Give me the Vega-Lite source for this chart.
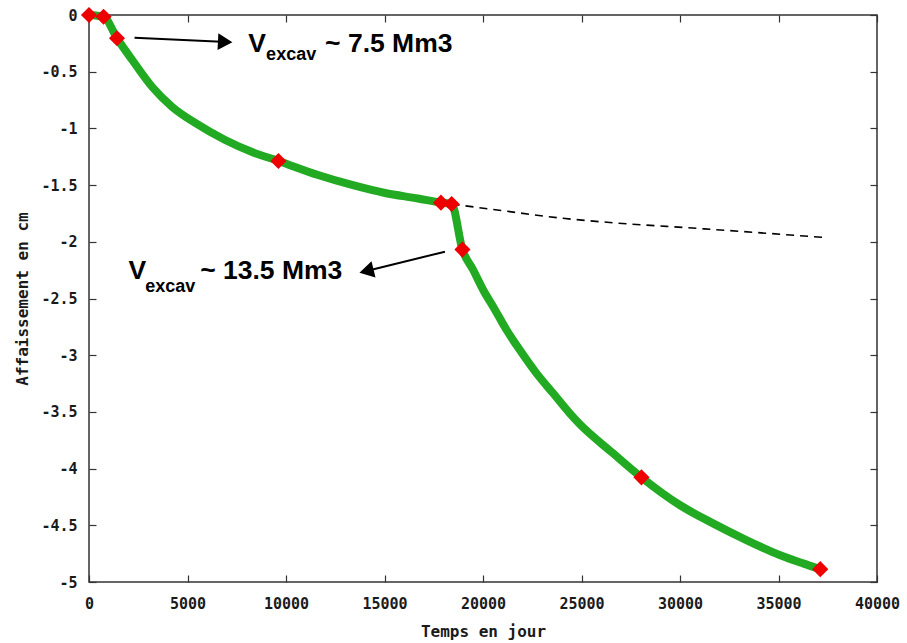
{
  "$schema": "https://vega.github.io/schema/vega-lite/v6.json",
  "width": 788,
  "height": 567,
  "autosize": {"type": "none"},
  "padding": {"left": 89, "top": 15, "right": 30, "bottom": 61},
  "background": "white",
  "config": {
    "view": {"stroke": "#333333", "strokeWidth": 1.5},
    "axis": {
      "grid": false,
      "domain": false,
      "tickColor": "#333333",
      "tickWidth": 1.2,
      "labelFont": "DejaVu Sans Mono",
      "labelFontWeight": "bold",
      "labelFontSize": 15,
      "labelColor": "#1a1a1a",
      "titleFont": "DejaVu Sans Mono",
      "titleFontWeight": "bold",
      "titleFontSize": 16,
      "titleColor": "#1a1a1a"
    }
  },
  "datasets": {
    "curve": [
      {"t": 0, "a": 0},
      {"t": 740, "a": -0.015},
      {"t": 1420, "a": -0.205},
      {"t": 2196, "a": -0.397},
      {"t": 3210, "a": -0.635},
      {"t": 4225, "a": -0.811},
      {"t": 5391, "a": -0.952},
      {"t": 6912, "a": -1.102},
      {"t": 8281, "a": -1.208},
      {"t": 9615, "a": -1.287},
      {"t": 11628, "a": -1.411},
      {"t": 13352, "a": -1.499},
      {"t": 15026, "a": -1.570},
      {"t": 16700, "a": -1.618},
      {"t": 17865, "a": -1.655},
      {"t": 18408, "a": -1.667},
      {"t": 18956, "a": -2.069},
      {"t": 19503, "a": -2.249},
      {"t": 20010, "a": -2.425},
      {"t": 20517, "a": -2.572},
      {"t": 21197, "a": -2.778},
      {"t": 21871, "a": -2.954},
      {"t": 22718, "a": -3.160},
      {"t": 23560, "a": -3.336},
      {"t": 24407, "a": -3.513},
      {"t": 24870, "a": -3.601},
      {"t": 26603, "a": -3.865},
      {"t": 28043, "a": -4.077},
      {"t": 29986, "a": -4.321},
      {"t": 31675, "a": -4.483},
      {"t": 33368, "a": -4.630},
      {"t": 35057, "a": -4.762},
      {"t": 36238, "a": -4.836},
      {"t": 37120, "a": -4.887}
    ],
    "dash": [
      {"t": 18408, "a": -1.667},
      {"t": 21000, "a": -1.726},
      {"t": 24070, "a": -1.793},
      {"t": 26600, "a": -1.832},
      {"t": 30830, "a": -1.881},
      {"t": 37505, "a": -1.964}
    ],
    "markers": [
      {"t": 0, "a": 0},
      {"t": 740, "a": -0.015},
      {"t": 1420, "a": -0.205},
      {"t": 9615, "a": -1.287},
      {"t": 17865, "a": -1.655},
      {"t": 18408, "a": -1.667},
      {"t": 18956, "a": -2.069},
      {"t": 28043, "a": -4.077},
      {"t": 37120, "a": -4.887}
    ],
    "arrows": [
      {"arrow": 1, "t": 2312, "a": -0.200},
      {"arrow": 1, "t": 7000, "a": -0.239},
      {"arrow": 2, "t": 18069, "a": -2.087},
      {"arrow": 2, "t": 14085, "a": -2.258}
    ],
    "heads": [
      {"arrow": 1, "t": 6912, "a": -0.238},
      {"arrow": 2, "t": 14085, "a": -2.258}
    ],
    "labels": [
      {"part": "main", "t": 8078, "a": -0.324, "text": "V"},
      {"part": "sub", "t": 8991, "a": -0.395, "text": "excav"},
      {"part": "main", "t": 11983, "a": -0.324, "text": "~ 7.5 Mm3"},
      {"part": "main", "t": 2008, "a": -2.331, "text": "V"},
      {"part": "sub", "t": 2855, "a": -2.443, "text": "excav"},
      {"part": "main", "t": 5644, "a": -2.331, "text": "~ 13.5 Mm3"}
    ]
  },
  "resolve": {"axis": {"x": "independent", "y": "independent"}},
  "layer": [
    {
      "data": {"name": "curve"},
      "mark": {"type": "line", "color": "#22aa22", "strokeWidth": 8, "strokeCap": "round", "strokeJoin": "round", "interpolate": "monotone"},
      "encoding": {
        "x": {
          "field": "t", "type": "quantitative",
          "scale": {"domain": [0, 40000], "nice": false, "zero": false},
          "axis": {"title": "Temps en jour", "orient": "bottom", "values": [0, 5000, 10000, 15000, 20000, 25000, 30000, 35000, 40000], "labelExpr": "toString(datum.value)", "tickSize": -7, "labelPadding": 21, "titlePadding": 12, "labelFlush": false}
        },
        "y": {
          "field": "a", "type": "quantitative",
          "scale": {"domain": [-5, 0], "nice": false, "zero": false},
          "axis": {"title": "Affaissement en cm", "orient": "left", "values": [0, -0.5, -1, -1.5, -2, -2.5, -3, -3.5, -4, -4.5, -5], "labelExpr": "toString(datum.value)", "tickSize": -7, "labelPadding": 19, "titlePadding": 10, "labelFlush": false}
        },
        "order": {"field": "t", "type": "quantitative"}
      }
    },
    {
      "data": {"name": "dash"},
      "mark": {"type": "line", "color": "black", "strokeWidth": 1.6, "strokeDash": [8, 6], "interpolate": "monotone"},
      "encoding": {
        "x": {"field": "t", "type": "quantitative", "axis": {"orient": "top", "title": null, "labels": false, "values": [0, 5000, 10000, 15000, 20000, 25000, 30000, 35000, 40000], "tickSize": -7}},
        "y": {"field": "a", "type": "quantitative", "axis": {"orient": "right", "title": null, "labels": false, "values": [0, -0.5, -1, -1.5, -2, -2.5, -3, -3.5, -4, -4.5, -5], "tickSize": -7}}
      }
    },
    {
      "data": {"name": "arrows"},
      "mark": {"type": "line", "color": "black", "strokeWidth": 2},
      "encoding": {
        "x": {"field": "t", "type": "quantitative", "axis": null},
        "y": {"field": "a", "type": "quantitative", "axis": null},
        "detail": {"field": "arrow"}
      }
    },
    {
      "data": {"name": "heads"},
      "transform": [{"filter": "datum.arrow == 1"}],
      "mark": {"type": "point", "shape": "triangle-right", "filled": true, "color": "black", "opacity": 1, "size": 280, "angle": 2.7},
      "encoding": {
        "x": {"field": "t", "type": "quantitative", "axis": null},
        "y": {"field": "a", "type": "quantitative", "axis": null}
      }
    },
    {
      "data": {"name": "heads"},
      "transform": [{"filter": "datum.arrow == 2"}],
      "mark": {"type": "point", "shape": "triangle-left", "filled": true, "color": "black", "opacity": 1, "size": 280, "angle": -14},
      "encoding": {
        "x": {"field": "t", "type": "quantitative", "axis": null},
        "y": {"field": "a", "type": "quantitative", "axis": null}
      }
    },
    {
      "data": {"name": "markers"},
      "mark": {"type": "point", "shape": "diamond", "filled": true, "color": "#ee0000", "opacity": 1, "size": 260},
      "encoding": {
        "x": {"field": "t", "type": "quantitative", "axis": null},
        "y": {"field": "a", "type": "quantitative", "axis": null}
      }
    },
    {
      "data": {"name": "labels"},
      "transform": [{"filter": "datum.part == 'main'"}],
      "mark": {"type": "text", "font": "Liberation Sans", "fontWeight": "bold", "fontSize": 26.5, "align": "left", "baseline": "alphabetic", "color": "black"},
      "encoding": {
        "x": {"field": "t", "type": "quantitative", "axis": null},
        "y": {"field": "a", "type": "quantitative", "axis": null},
        "text": {"field": "text"}
      }
    },
    {
      "data": {"name": "labels"},
      "transform": [{"filter": "datum.part == 'sub'"}],
      "mark": {"type": "text", "font": "Liberation Sans", "fontWeight": "bold", "fontSize": 18, "align": "left", "baseline": "alphabetic", "color": "black"},
      "encoding": {
        "x": {"field": "t", "type": "quantitative", "axis": null},
        "y": {"field": "a", "type": "quantitative", "axis": null},
        "text": {"field": "text"}
      }
    }
  ]
}
